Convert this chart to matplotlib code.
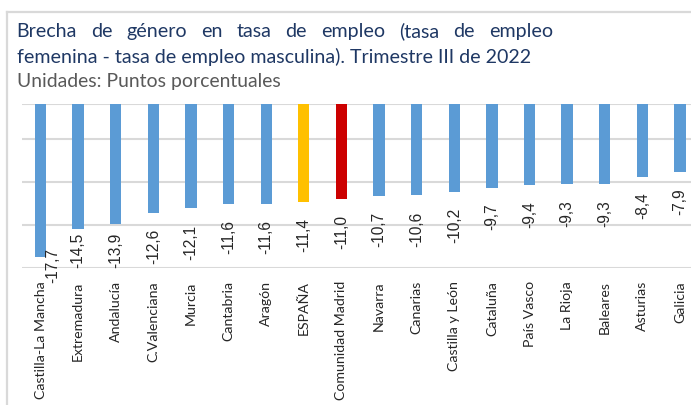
import matplotlib
matplotlib.use("Agg")
import matplotlib.pyplot as plt
from matplotlib.lines import Line2D

# ---------------- data ----------------
categories = ["Castilla-La Mancha", "Extremadura", "Andalucía", "C.Valenciana", "Murcia",
              "Cantabria", "Aragón", "ESPAÑA", "Comunidad Madrid", "Navarra", "Canarias",
              "Castilla y León", "Cataluña", "País Vasco", "La Rioja", "Baleares",
              "Asturias", "Galicia"]
values = [-17.7, -14.5, -13.9, -12.6, -12.1, -11.6, -11.6, -11.4, -11.0, -10.7, -10.6,
          -10.2, -9.7, -9.4, -9.3, -9.3, -8.4, -7.9]
grid_values = [0, -4, -9, -14, -19]
title_line1 = "Brecha de género en tasa de empleo (tasa de empleo"
title_line2 = "femenina - tasa de empleo masculina). Trimestre III de 2022"
subtitle = "Unidades: Puntos porcentuales"

# ---------------- style ----------------
W, H = 691, 405
BLUE = "#5B9BD5"
YELLOW = "#FFC000"
RED = "#CC0000"
GRID = "#D9D9D9"
TITLE_C = "#1F3864"
SUB_C = "#595959"
special = {"ESPAÑA": YELLOW, "Comunidad Madrid": RED}
colors = [special.get(c, BLUE) for c in categories]

fig = plt.figure(figsize=(W / 100, H / 100), dpi=100)

def px(x, y):
    return x / W, 1 - y / H

# outer border (light gray frame, runs off the image to the right/bottom)
fig.add_artist(Line2D([6.7 / W, 6.7 / W], [1 - 12 / H, -0.05], color=GRID, lw=1.6,
                      transform=fig.transFigure))
fig.add_artist(Line2D([6.7 / W, 1.05], [1 - 12 / H, 1 - 12 / H], color=GRID, lw=1.6,
                      transform=fig.transFigure))

# ---------------- axes ----------------
left_px, right_px, top_px, bot_px = 21.7, 698.8, 104, 268
ax = fig.add_axes([left_px / W, 1 - bot_px / H, (right_px - left_px) / W, (bot_px - top_px) / H])
ax.bar(range(len(values)), values, width=0.30, color=colors, zorder=3)
ax.set_xlim(-0.5, len(values) - 0.5)
ax.set_ylim(-19, 0)
ax.set_yticks(grid_values)
ax.set_yticklabels([])
ax.grid(axis="y", color=GRID, lw=1.5, zorder=0)
ax.tick_params(axis="y", length=0)
for s in ax.spines.values():
    s.set_visible(False)
ax.set_xticks(range(len(categories)))
ax.set_xticklabels(categories, rotation=90, fontfamily="Lato", fontsize=10.2, color="#262626")
ax.tick_params(axis="x", length=0, pad=9.5)

# value labels
fig.canvas.draw()
r = fig.canvas.get_renderer()
upp = 19 / (bot_px - top_px)  # data units per pixel
texts = []
for i, v in enumerate(values):
    lab = f"{v:.1f}".replace(".", ",")
    if i == 0:
        t = ax.text(i + 12.5 / 37.6, v + 8.7 * upp, lab, rotation=90, ha="center", va="top",
                    fontfamily="Liberation Sans", fontsize=11.2, color="#262626", clip_on=False)
        continue
    t = ax.text(i, v - 16 * upp, lab, rotation=90, ha="center", va="top",
                fontfamily="Liberation Sans", fontsize=11.2, color="#262626")
    bb = t.get_window_extent(r)
    bottom_data = v - 16 * upp - bb.height * upp
    if bottom_data < -19:
        t.set_y(-19 + 0.5 * upp)
        t.set_va("bottom")

# ---------------- titles ----------------
def width_of(s, size, family):
    t = fig.text(0, 0, s, fontsize=size, fontfamily=family)
    w = t.get_window_extent(r).width
    t.remove()
    return w

tfam = "Lato"
base = 14
w2 = width_of(title_line2, base, tfam)
tsize = base * (533 - 16.7) / w2
fig.text(*px(16.7, 62.5), title_line2, fontsize=tsize, fontfamily=tfam, color=TITLE_C,
         va="baseline", ha="left")

# justified first line
words = title_line1.split(" ")
ww = [width_of(w, tsize, tfam) for w in words]
gap = ((553 - 16.7) - sum(ww)) / (len(words) - 1)
x = 16.7
for w, wd in zip(words, ww):
    fig.text(*px(x, 36.7), w, fontsize=tsize, fontfamily=tfam, color=TITLE_C,
             va="baseline", ha="left")
    x += wd + gap

w3 = width_of(subtitle, base, tfam)
ssize = base * (282 - 16.7) / w3
fig.text(*px(16.7, 87), subtitle, fontsize=ssize, fontfamily=tfam, color=SUB_C,
         va="baseline", ha="left")

fig.savefig("out.png", dpi=100)
